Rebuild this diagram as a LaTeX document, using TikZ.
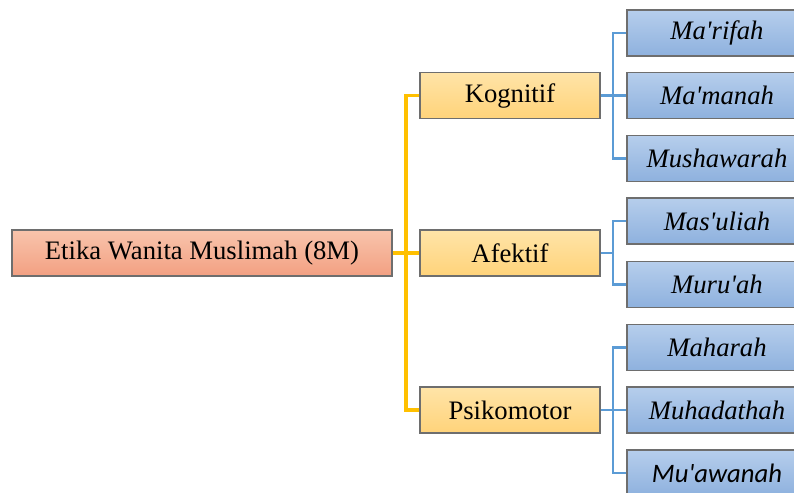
\documentclass[tikz,border=0pt]{standalone}
\usepackage{fontspec}
\setmainfont{Liberation Serif}
\newfontfamily\calibri{Carlito}
\usetikzlibrary{calc,positioning}
\definecolor{rtop}{HTML}{F8C4AC}
\definecolor{rbot}{HTML}{F3A082}
\definecolor{mtop}{HTML}{FFE4A8}
\definecolor{mbot}{HTML}{FFD37A}
\definecolor{ltop}{HTML}{B6CEEC}
\definecolor{lbot}{HTML}{8EB1DE}
\definecolor{edge}{HTML}{6E6E6E}
\definecolor{kuning}{HTML}{FFC000}
\definecolor{biru}{HTML}{5B9BD5}
\begin{document}
\begin{tikzpicture}[x=0.75pt,y=-0.75pt,
  box/.style={draw=edge,line width=0.8pt,minimum height=34.5pt,inner sep=0pt,font=\fontsize{20}{22}\selectfont},
  rbox/.style={box,top color=rtop,bottom color=rbot,minimum width=285pt},
  mbox/.style={box,top color=mtop,bottom color=mbot,minimum width=135pt},
  lbox/.style={box,top color=ltop,bottom color=lbot,minimum width=135pt,font=\fontsize{20}{22}\selectfont\itshape},
  yline/.style={draw=kuning,line width=2.4pt},
  bline/.style={draw=biru,line width=2.2pt}]
              \useasboundingbox (0,0) rectangle (794,493);
              \clip (0,0) rectangle (794,493);
              \node[rbox] (r) at (202,253) {Etika Wanita Muslimah (8M)};

              \node[mbox] (a1) at (510,95.5) {Kognitif};
              \node[mbox] (a2) at (510,253) {Afektif};
              \node[mbox] (a3) at (510,410) {Psikomotor};

              \node[lbox] (b1) at (717,33) {Ma\textquotesingle rifah};
              \node[lbox] (b2) at (717,95.5) {Ma\textquotesingle manah};
              \node[lbox] (b3) at (717,158.5) {Mushawarah};
              \node[lbox] (b4) at (717,221) {Mas\textquotesingle uliah};
              \node[lbox] (b5) at (717,284.5) {Muru\textquotesingle ah};
              \node[lbox] (b6) at (717,347.5) {Maharah};
              \node[lbox] (b7) at (717,410) {Muhadathah};
              \node[lbox,font=\fontsize{20}{22}\selectfont\calibri\itshape] (b8) at (717,473) {Mu\textquotesingle awanah};

              \coordinate (t0) at (406,253);
              \coordinate (t1) at (613,95.5);
              \coordinate (t2) at (613,253);
              \coordinate (t3) at (613,410);

              \draw[yline] (r) -- (a2);
              \draw[yline] (t0) |- (a1);
              \draw[yline] (t0) |- (a3);
              \draw[bline] (a1) -- (t1);
              \draw[bline] (t1) |- (b1);
              \draw[bline] (t1) |- (b2);
              \draw[bline] (t1) |- (b3);
              \draw[bline] (a2) -- (t2);
              \draw[bline] (t2) |- (b4);
              \draw[bline] (t2) |- (b5);
              \draw[bline] (a3) -- (t3);
              \draw[bline] (t3) |- (b6);
              \draw[bline] (t3) |- (b7);
              \draw[bline] (t3) |- (b8);
            \end{tikzpicture}
\end{document}
